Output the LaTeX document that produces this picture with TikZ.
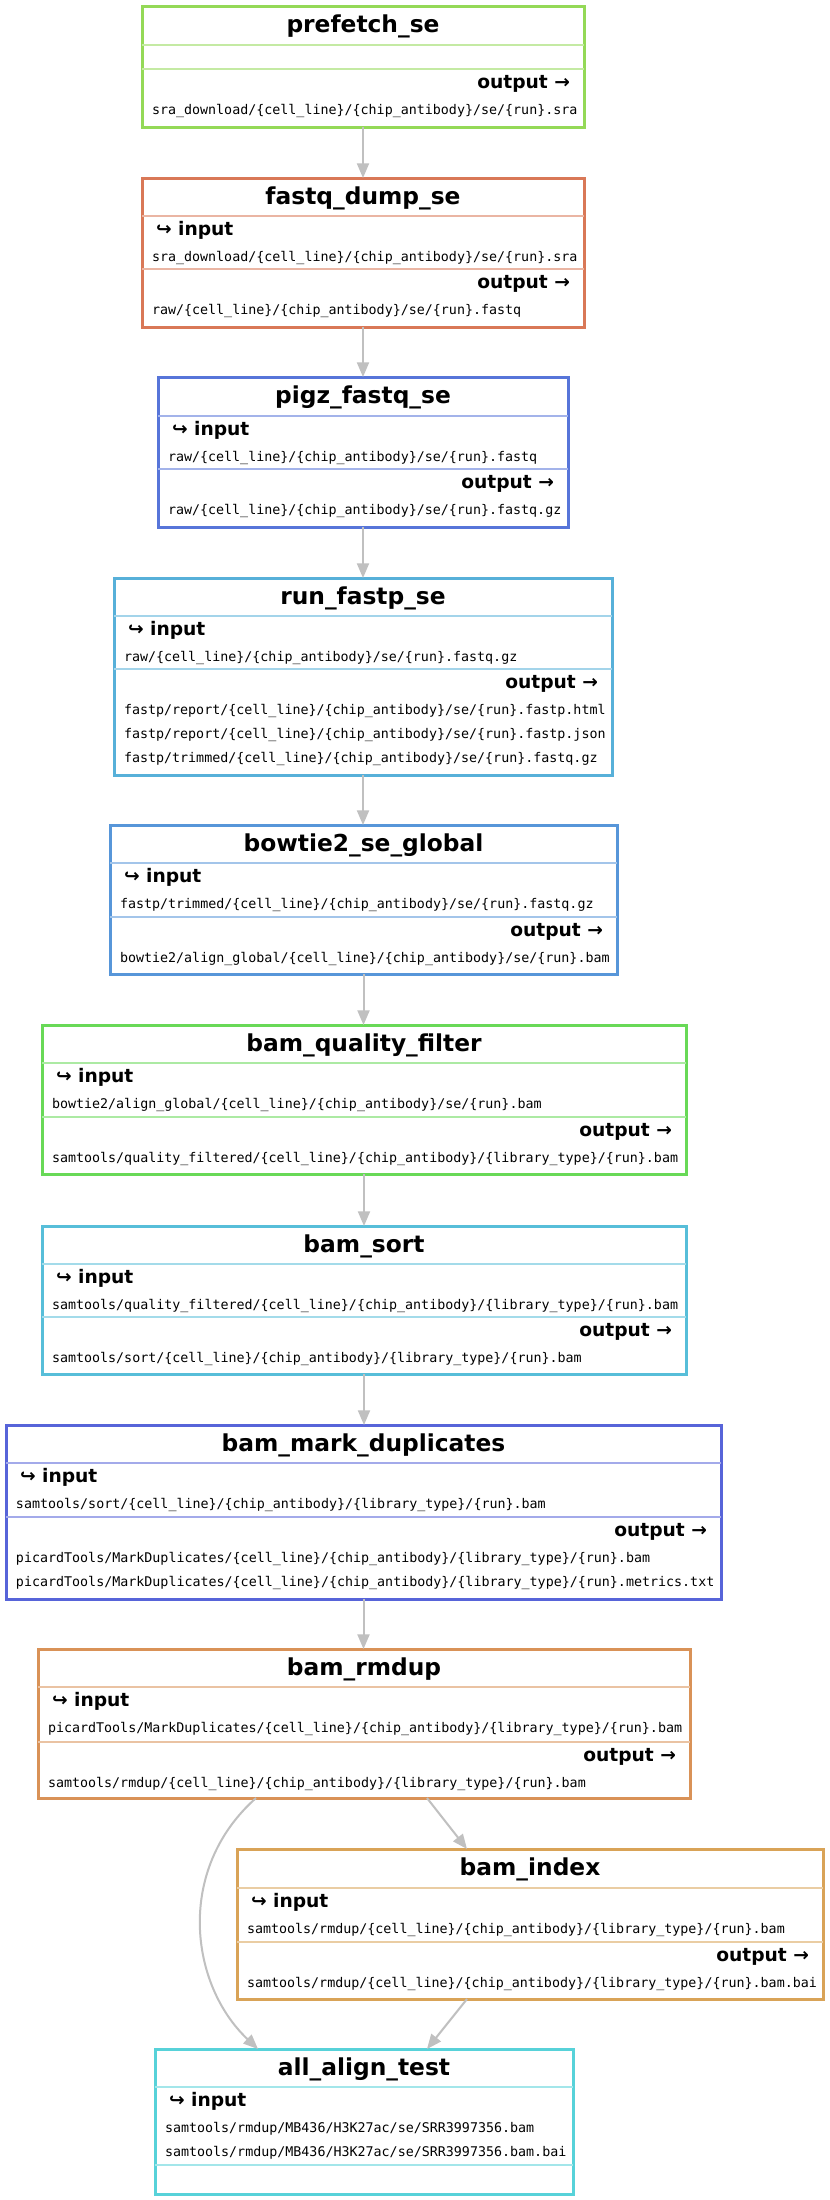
\documentclass[tikz,border=0pt]{standalone}
\usepackage{fontspec}
\setmainfont{DejaVu Sans}
\setmonofont{DejaVu Sans Mono}
\usetikzlibrary{arrows.meta,calc}
\definecolor{cA}{RGB}{148,217,87}
\definecolor{cB}{RGB}{217,120,87}
\definecolor{cC}{RGB}{87,117,217}
\definecolor{cD}{RGB}{87,176,217}
\definecolor{cE}{RGB}{87,150,217}
\definecolor{cF}{RGB}{104,217,87}
\definecolor{cG}{RGB}{87,190,217}
\definecolor{cH}{RGB}{87,100,217}
\definecolor{cI}{RGB}{217,146,87}
\definecolor{cJ}{RGB}{217,163,87}
\definecolor{cK}{RGB}{87,210,217}
\definecolor{edgegray}{RGB}{192,192,192}
\tikzset{
  txt/.style={inner sep=0pt, outer sep=0pt},
  titletxt/.style={txt, font=\fontsize{17.5pt}{20pt}\selectfont\bfseries},
  lbltxt/.style={txt, font=\fontsize{14pt}{16pt}\selectfont\bfseries},
  pathtxt/.style={txt, font=\fontsize{10pt}{12pt}\selectfont\ttfamily},
  flow/.style={draw=edgegray, line width=1.5pt, -{Triangle[length=11pt,width=9pt]}},
  rframe/.style={line width=2.25pt, inner sep=0pt, outer sep=0pt},
}
\newcommand\pCL{\{cell\_line\}}
\newcommand\pCA{\{chip\_antibody\}}
\newcommand\pLT{\{library\_type\}}
\newcommand\pRN{\{run\}}
% name, colour, left, right, top, bottom, title
\newcommand\rbox[7]{%
  \node[rframe, draw=#2, minimum width={(#4-#3)*0.75pt}, minimum height={(#6-#5)*0.75pt}] (#1) at ({(#3+#4)/2},{(#5+#6)/2}) {};
  \node[titletxt, anchor=base] (#1-title) at ({(#3+#4)/2},{#5+26}) {#7};}
\newcommand\rsep[4]{\draw[#1!55!white, line width=1.1pt] (#2,#4) -- (#3,#4);}
\newcommand\rin[3]{\node[lbltxt, anchor=base west] (#1-in) at ({#2+14},#3) {↪ input};}
\newcommand\rout[3]{\node[lbltxt, anchor=base east] (#1-out) at ({#2-14},#3) {output →};}
\newcommand\rpath[4]{\node[pathtxt, anchor=base west] (#1) at ({#2+10},#3) {#4};}
\begin{document}
\begin{tikzpicture}[x=0.75pt,y=-0.75pt]
\fill[white] (0,0) rectangle (829,2200);
\useasboundingbox (0,0) rectangle (829,2200);

% prefetch_se
\rbox{prefetch}{cA}{142}{584}{6}{127}{prefetch\_se}
\rsep{cA}{142}{584}{45}
\rsep{cA}{142}{584}{69}
\rout{prefetch}{584}{88}
\rpath{prefetch-o1}{142}{114}{sra\_download/\pCL/\pCA/se/\pRN.sra}

% fastq_dump_se
\rbox{fastq}{cB}{142}{584}{178}{327}{fastq\_dump\_se}
\rsep{cB}{142}{584}{216}
\rsep{cB}{142}{584}{269}
\rin{fastq}{142}{235}
\rpath{fastq-i1}{142}{261}{sra\_download/\pCL/\pCA/se/\pRN.sra}
\rout{fastq}{584}{288}
\rpath{fastq-o1}{142}{314}{raw/\pCL/\pCA/se/\pRN.fastq}

% pigz_fastq_se
\rbox{pigz}{cC}{158}{568}{377}{527}{pigz\_fastq\_se}
\rsep{cC}{158}{568}{416}
\rsep{cC}{158}{568}{469}
\rin{pigz}{158}{435}
\rpath{pigz-i1}{158}{461}{raw/\pCL/\pCA/se/\pRN.fastq}
\rout{pigz}{568}{488}
\rpath{pigz-o1}{158}{514}{raw/\pCL/\pCA/se/\pRN.fastq.gz}

% run_fastp_se
\rbox{fastp}{cD}{114}{612}{578}{775}{run\_fastp\_se}
\rsep{cD}{114}{612}{616}
\rsep{cD}{114}{612}{669}
\rin{fastp}{114}{635}
\rpath{fastp-i1}{114}{661}{raw/\pCL/\pCA/se/\pRN.fastq.gz}
\rout{fastp}{612}{688}
\rpath{fastp-o1}{114}{714}{fastp/report/\pCL/\pCA/se/\pRN.fastp.html}
\rpath{fastp-o2}{114}{738}{fastp/report/\pCL/\pCA/se/\pRN.fastp.json}
\rpath{fastp-o3}{114}{762}{fastp/trimmed/\pCL/\pCA/se/\pRN.fastq.gz}

% bowtie2_se_global
\rbox{bowtie}{cE}{110}{617}{825}{974}{bowtie2\_se\_global}
\rsep{cE}{110}{617}{863}
\rsep{cE}{110}{617}{917}
\rin{bowtie}{110}{882}
\rpath{bowtie-i1}{110}{908}{fastp/trimmed/\pCL/\pCA/se/\pRN.fastq.gz}
\rout{bowtie}{617}{936}
\rpath{bowtie-o1}{110}{962}{bowtie2/align\_global/\pCL/\pCA/se/\pRN.bam}

% bam_quality_filter
\rbox{bqf}{cF}{42}{686}{1025}{1174}{bam\_quality\_filter}
\rsep{cF}{42}{686}{1063}
\rsep{cF}{42}{686}{1117}
\rin{bqf}{42}{1082}
\rpath{bqf-i1}{42}{1108}{bowtie2/align\_global/\pCL/\pCA/se/\pRN.bam}
\rout{bqf}{686}{1136}
\rpath{bqf-o1}{42}{1162}{samtools/quality\_filtered/\pCL/\pCA/\pLT/\pRN.bam}

% bam_sort
\rbox{bsort}{cG}{42}{686}{1226}{1374}{bam\_sort}
\rsep{cG}{42}{686}{1264}
\rsep{cG}{42}{686}{1317}
\rin{bsort}{42}{1283}
\rpath{bsort-i1}{42}{1309}{samtools/quality\_filtered/\pCL/\pCA/\pLT/\pRN.bam}
\rout{bsort}{686}{1336}
\rpath{bsort-o1}{42}{1362}{samtools/sort/\pCL/\pCA/\pLT/\pRN.bam}

% bam_mark_duplicates
\rbox{markdup}{cH}{6}{721}{1425}{1599}{bam\_mark\_duplicates}
\rsep{cH}{6}{721}{1463}
\rsep{cH}{6}{721}{1517}
\rin{markdup}{6}{1482}
\rpath{markdup-i1}{6}{1508}{samtools/sort/\pCL/\pCA/\pLT/\pRN.bam}
\rout{markdup}{721}{1536}
\rpath{markdup-o1}{6}{1562}{picardTools/MarkDuplicates/\pCL/\pCA/\pLT/\pRN.bam}
\rpath{markdup-o2}{6}{1586}{picardTools/MarkDuplicates/\pCL/\pCA/\pLT/\pRN.metrics.txt}

% bam_rmdup
\rbox{rmdup}{cI}{38}{690}{1649}{1798}{bam\_rmdup}
\rsep{cI}{38}{690}{1687}
\rsep{cI}{38}{690}{1742}
\rin{rmdup}{38}{1706}
\rpath{rmdup-i1}{38}{1732}{picardTools/MarkDuplicates/\pCL/\pCA/\pLT/\pRN.bam}
\rout{rmdup}{690}{1761}
\rpath{rmdup-o1}{38}{1787}{samtools/rmdup/\pCL/\pCA/\pLT/\pRN.bam}

% bam_index
\rbox{bindex}{cJ}{237}{823}{1849}{1999}{bam\_index}
\rsep{cJ}{237}{823}{1888}
\rsep{cJ}{237}{823}{1942}
\rin{bindex}{237}{1907}
\rpath{bindex-i1}{237}{1933}{samtools/rmdup/\pCL/\pCA/\pLT/\pRN.bam}
\rout{bindex}{823}{1961}
\rpath{bindex-o1}{237}{1987}{samtools/rmdup/\pCL/\pCA/\pLT/\pRN.bam.bai}

% all_align_test
\rbox{allalign}{cK}{155}{573}{2049}{2194}{all\_align\_test}
\rsep{cK}{155}{573}{2087}
\rsep{cK}{155}{573}{2165}
\rin{allalign}{155}{2106}
\rpath{allalign-i1}{155}{2132}{samtools/rmdup/MB436/H3K27ac/se/SRR3997356.bam}
\rpath{allalign-i2}{155}{2156}{samtools/rmdup/MB436/H3K27ac/se/SRR3997356.bam.bai}

% connectors
\draw[flow] (prefetch.south) -- (prefetch.south |- fastq.north);
\draw[flow] (fastq.south) -- (fastq.south |- pigz.north);
\draw[flow] (pigz.south) -- (pigz.south |- fastp.north);
\draw[flow] (fastp.south) -- (fastp.south |- bowtie.north);
\draw[flow] (bowtie.south) -- (bowtie.south |- bqf.north);
\draw[flow] (bqf.south) -- (bqf.south |- bsort.north);
\draw[flow] (bsort.south) -- (bsort.south |- markdup.north);
\draw[flow] (markdup.south) -- (markdup.south |- rmdup.north);
\draw[flow] ($(rmdup.south)+(63,0)$) -- ($(bindex.north)+(-63,0)$);
\draw[flow] ($(bindex.south)+(-63,0)$) -- ($(allalign.north)+(63,0)$);
\draw[flow] ($(rmdup.south)+(-108,0)$) .. controls (175,1870) and (190,1985) .. ($(allalign.north)+(-106,0)$);
\end{tikzpicture}
\end{document}
